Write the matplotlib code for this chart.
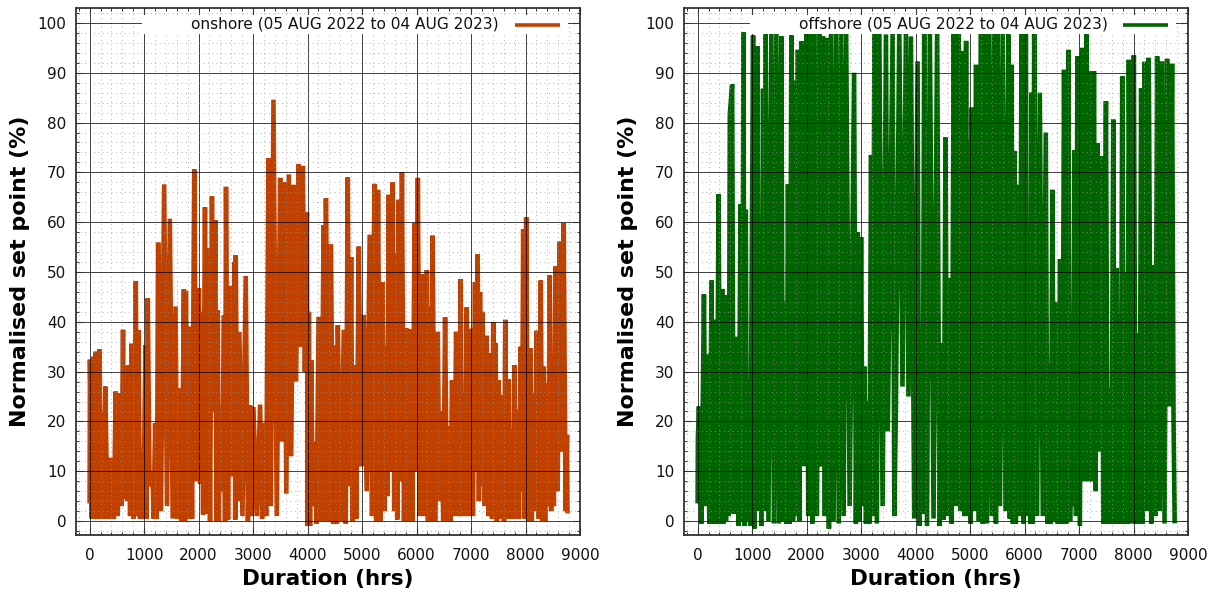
import matplotlib
matplotlib.use('Agg')
import matplotlib.pyplot as plt
from matplotlib.patches import Rectangle
from matplotlib.ticker import MultipleLocator

# series: (hours, normalised set point), peaks and the dips between them
onshore_hours = [0, 6, 40, 75, 90, 110, 145, 184, 205, 227, 258, 288, 328, 368, 395, 415, 445, 478, 515, 552, 585, 613, 635, 656, 690, 718, 743, 767, 805, 847, 872, 896, 925, 951, 985, 1025, 1046, 1067, 1100, 1153, 1175, 1202, 1230, 1258, 1310, 1368, 1420, 1472, 1525, 1577, 1610, 1644, 1690, 1730, 1750, 1767, 1805, 1840, 1880, 1920, 1960, 2006, 2028, 2049, 2083, 2117, 2148, 2178, 2210, 2245, 2276, 2307, 2328, 2350, 2372, 2393, 2430, 2466, 2485, 2503, 2540, 2577, 2620, 2663, 2672, 2681, 2715, 2748, 2805, 2865, 2905, 2945, 2975, 3006, 3068, 3129, 3165, 3202, 3240, 3282, 3325, 3374, 3435, 3497, 3530, 3570, 3610, 3656, 3700, 3742, 3790, 3834, 3874, 3914, 3950, 3988, 4000, 4025, 4045, 4068, 4095, 4129, 4165, 4202, 4250, 4294, 4316, 4337, 4385, 4429, 4470, 4512, 4535, 4555, 4610, 4665, 4700, 4738, 4770, 4800, 4825, 4848, 4895, 4939, 4985, 5030, 5085, 5140, 5183, 5226, 5260, 5293, 5335, 5378, 5412, 5445, 5466, 5488, 5525, 5561, 5590, 5622, 5645, 5671, 5700, 5732, 5770, 5811, 5847, 5884, 5925, 5963, 5990, 6024, 6060, 6097, 6145, 6190, 6210, 6232, 6262, 6293, 6340, 6390, 6420, 6451, 6490, 6524, 6560, 6591, 6620, 6652, 6690, 6726, 6770, 6811, 6835, 6860, 6890, 6920, 6955, 6994, 7035, 7073, 7098, 7122, 7145, 7165, 7190, 7213, 7250, 7287, 7325, 7360, 7385, 7408, 7430, 7451, 7475, 7500, 7520, 7543, 7560, 7579, 7605, 7628, 7655, 7683, 7708, 7732, 7760, 7793, 7825, 7854, 7880, 7909, 7935, 7957, 7985, 8012, 8050, 8091, 8115, 8140, 8170, 8201, 8240, 8280, 8308, 8335, 8360, 8384, 8415, 8445, 8470, 8494, 8520, 8549, 8590, 8628, 8665, 8701, 8735, 8762, 8770]
onshore_pct = [4, 32.4, 0.5, 33, 0.5, 34, 0.5, 34.5, 0.5, 22, 0.5, 27, 0.5, 12.7, 0.5, 12.5, 0.5, 26, 1, 25.6, 3, 38.4, 4.5, 31, 4, 31.3, 1, 35.6, 0.5, 48.2, 1, 38.3, 0.5, 13.9, 0.5, 35.3, 0.5, 44.7, 7, 10, 0.5, 19.6, 0.5, 55.9, 2, 67.6, 3, 60.7, 0.5, 43.1, 0.5, 26.6, 0, 46.5, 0, 46.2, 0.5, 39, 0.5, 70.6, 8, 46.7, 7.5, 42, 1.3, 63, 1.5, 54.7, 0, 65.2, 22, 60.4, 0, 42.3, 0, 22.9, 6, 41.3, 0, 67.1, 0.3, 47.2, 9, 52, 0.3, 53.4, 4, 38, 1, 49.2, 0, 23.2, 1, 22.9, 1, 23.4, 0.5, 19.6, 1, 72.8, 3, 84.6, 1, 68.9, 16, 68, 5.5, 69.6, 13, 67.5, 28, 71.6, 35, 71.3, 30, 62, -1, 42, -1, 32.3, 3, 15.9, -0.5, 41, 0, 59.4, 0, 64.8, 0, 55.6, -0.5, 35.2, -0.5, 39.3, 0, 38.4, -0.5, 69, 7, 53, 0, 31.3, 0.5, 55.1, 11, 41.4, 6, 57.5, 1, 67.7, 0, 66.5, 0, 47.9, 2, 35, 5, 65.5, 10, 68, 2, 53.8, 0.3, 64.5, 8, 70, 0, 38.7, 0, 38.5, 0, 59.8, 10, 68.9, 1, 49.6, 1, 50.4, 0, 43, 0, 57.3, 0, 38, 4, 22, 0, 40.9, 0, 19, 0, 28.3, 1, 38, 1, 48.6, 1, 25.7, 1, 42.9, 1, 38.6, 1, 48, 10, 53.6, 4, 46, 7, 42, 3, 37.2, 1, 33.7, 0.5, 39.9, 1, 35.7, 0, 28.3, 0.5, 25.3, 0.5, 24, 0, 40.4, 0.5, 28.5, 0.5, 18.3, 0.5, 31.3, 0.5, 22.3, 0.5, 35, 6, 58.6, 0.5, 61, 0, 34.7, 0, 25.7, 2, 38.2, 0.5, 48.3, 0, 31, 0, 27.7, 3, 49.4, 2, 29.7, 3, 51.1, 6, 56.1, 14, 59.8, 2, 17.3, 2]

offshore_hours = [0, 5, 24, 70, 116, 150, 177, 215, 256, 285, 317, 350, 384, 420, 451, 475, 500, 520, 543, 570, 591, 634, 660, 713, 750, 787, 815, 841, 862, 884, 905, 927, 965, 1018, 1040, 1098, 1125, 1152, 1175, 1201, 1225, 1250, 1300, 1354, 1400, 1445, 1490, 1537, 1568, 1598, 1628, 1658, 1690, 1720, 1750, 1781, 1810, 1841, 1870, 1902, 1950, 1994, 2030, 2067, 2105, 2146, 2190, 2238, 2270, 2299, 2335, 2372, 2410, 2451, 2495, 2543, 2590, 2634, 2680, 2726, 2790, 2872, 2905, 2939, 2970, 3000, 3030, 3061, 3090, 3122, 3150, 3183, 3214, 3244, 3290, 3335, 3395, 3457, 3490, 3579, 3610, 3640, 3701, 3760, 3823, 3870, 3915, 3975, 4037, 4068, 4098, 4128, 4159, 4210, 4262, 4330, 4396, 4440, 4482, 4515, 4549, 4585, 4622, 4660, 4701, 4745, 4787, 4825, 4866, 4900, 4927, 4958, 4988, 5010, 5030, 5070, 5110, 5155, 5201, 5230, 5262, 5310, 5354, 5400, 5445, 5475, 5506, 5550, 5598, 5650, 5701, 5730, 5762, 5787, 5811, 5840, 5872, 5910, 5945, 5985, 6024, 6055, 6085, 6105, 6128, 6150, 6177, 6230, 6280, 6335, 6390, 6420, 6451, 6480, 6512, 6540, 6573, 6610, 6652, 6690, 6725, 6765, 6805, 6835, 6860, 6890, 6921, 6945, 6970, 7015, 7061, 7098, 7134, 7175, 7213, 7245, 7274, 7305, 7335, 7375, 7414, 7445, 7494, 7527, 7561, 7595, 7628, 7660, 7689, 7712, 7738, 7765, 7793, 7825, 7854, 7885, 7914, 7960, 8006, 8040, 8079, 8110, 8140, 8170, 8201, 8240, 8280, 8325, 8372, 8400, 8433, 8480, 8524, 8570, 8616, 8660, 8708, 8735, 8755]
offshore_pct = [4, 16.6, 23, -0.5, 45.5, 3, 33.4, -0.5, 48.3, -0.5, 40.4, -0.5, 65.6, -0.5, 46.6, -0.5, 43, 0, 45.3, 1, 81.7, 87.7, 1.5, 37, -1, 63.6, 0, 98.1, -1, 62.5, 0, 19.3, -1, 97.5, -1.5, 95.3, 2, 34.7, -1, 86.8, 2, 97.7, 0, 98, -0.5, 98.5, -0.5, 97.3, 0, 44, -0.5, 67.6, -0.5, 97.5, 0, 88.4, 1, 94.6, 0, 96.3, 11, 98, 1, 98.3, -0.5, 98.5, 1, 98.5, 11, 97.3, 1, 97, -1.5, 98.3, 0, 98, -0.5, 98.5, 1, 98.5, 3, 90, -0.5, 58, 0, 57, 3, 31, -0.5, 24, -0.5, 73.5, 1, 99.3, -0.5, 98, 3, 97.7, 18, 98.3, 1, 23, 99.3, 27, 98.3, 25, 97.3, 0.5, 92.3, -1, 35.4, 1.5, 98.3, -1, 98.5, 0.5, 98.5, -1, 35.7, 0.3, 77, 1, 48.8, -0.5, 98.5, 3, 98, 2, 94.3, 1, 96.4, 1, 76.4, -0.5, 83, 2, 91.6, 0, 97.8, -0.5, 98.7, -0.5, 97.8, 1, 98, -0.5, 97.8, 3, 97.8, 2, 97.7, 0.5, 91.6, -0.5, 74.3, -0.5, 67.5, 1, 98.7, -0.5, 98, 1, 42.7, -0.5, 86, -0.5, 98.3, 1, 86, 1, 78, -0.5, 31.7, -0.5, 66.5, 0, 44, -0.5, 52.6, -0.5, 90.6, -0.5, 94.6, 0, 16.6, 3, 74.5, 1, 93.3, -1, 95, 8, 98, 8, 90.3, 8, 90.3, 6, 75.9, 14, 73.2, -0.5, 84.3, -0.5, 26.7, -0.5, 80.6, -0.5, 50.8, -0.5, 39.7, -0.5, 89.3, -0.5, 49.8, -0.5, 92.6, -0.5, 93.5, -0.5, 37.7, -0.5, 86.9, -0.5, 92.2, 2, 93, -0.5, 51.4, 1, 93.3, 2, 92.3, -0.5, 92.8, 23, 91.8, 20, 0]

onshore_label = 'onshore (05 AUG 2022 to 04 AUG 2023)'
offshore_label = 'offshore (05 AUG 2022 to 04 AUG 2023)'
x_ticks = [0, 1000, 2000, 3000, 4000, 5000, 6000, 7000, 8000, 9000]
y_ticks = [0, 10, 20, 30, 40, 50, 60, 70, 80, 90, 100]

W, H = 1215, 595
figure = plt.figure(figsize=(W / 100, H / 100), dpi=100, facecolor='white')


def draw_panel(left_px, hours, values, colour, label, text_px):
    # pixel box of the plot area
    right_px = left_px + 504
    ax = figure.add_axes([left_px / W, 1 - 535 / H, (right_px - left_px) / W, 527 / H])

    ax.plot(hours, values, color=colour, lw=3.3, solid_joinstyle='bevel', zorder=2)

    ax.set_xlim(-250, 9000)
    ax.set_ylim(-2.8, 103)
    ax.set_xticks(x_ticks)
    ax.set_yticks(y_ticks)
    ax.xaxis.set_minor_locator(MultipleLocator(200))
    ax.yaxis.set_minor_locator(MultipleLocator(2))
    ax.tick_params(axis='x', which='major', pad=9)
    ax.tick_params(axis='y', which='major', pad=7)
    ax.tick_params(which='major', direction='in', top=True, right=True, length=5,
                   width=0.8, color='#333333', labelsize=11, labelcolor='#111111')
    ax.tick_params(which='minor', direction='in', top=True, right=True, length=2.5,
                   width=0.7, color='#333333')

    # grid sits over the line in the original
    ax.set_axisbelow(False)
    ax.grid(which='major', color='black', lw=0.7, alpha=0.75)
    ax.grid(which='minor', color='#999999', lw=0.7, ls=(0, (1, 3.5)), alpha=0.75)

    for s in ax.spines.values():
        s.set_linewidth(1.3)
        s.set_color('#333333')

    ax.set_xlabel('Duration (hrs)', fontsize=15.5, fontweight='bold', labelpad=5)
    ax.set_ylabel('Normalised set point (%)', fontsize=15.9, fontweight='bold', labelpad=5)

    # key: white box, text and a short sample of the line, placed by pixel
    px = ax.transAxes.inverted()
    def to_ax(x, y):
        return px.transform((x, H - y))
    x0, y0 = to_ax(left_px + 66, 34)
    x1, y1 = to_ax(left_px + 492, 15)
    ax.add_patch(Rectangle((x0, y0), x1 - x0, y1 - y0, transform=ax.transAxes,
                           facecolor='white', edgecolor='none', zorder=3))
    tx, ty = to_ax(text_px, 24)
    ax.text(tx, ty, label, transform=ax.transAxes, fontsize=11.1, va='center', ha='left',
            color='#111111', zorder=4)
    lx0, ly = to_ax(left_px + 439, 25)
    lx1, _ = to_ax(left_px + 484, 25)
    ax.plot([lx0, lx1], [ly, ly], transform=ax.transAxes, color=colour, lw=2.6,
            solid_capstyle='butt', zorder=4)
    return ax


draw_panel(76, onshore_hours, onshore_pct, '#C04000', onshore_label, 191)
draw_panel(684, offshore_hours, offshore_pct, '#006400', offshore_label, 799)

figure.savefig('out.png', dpi=100)
